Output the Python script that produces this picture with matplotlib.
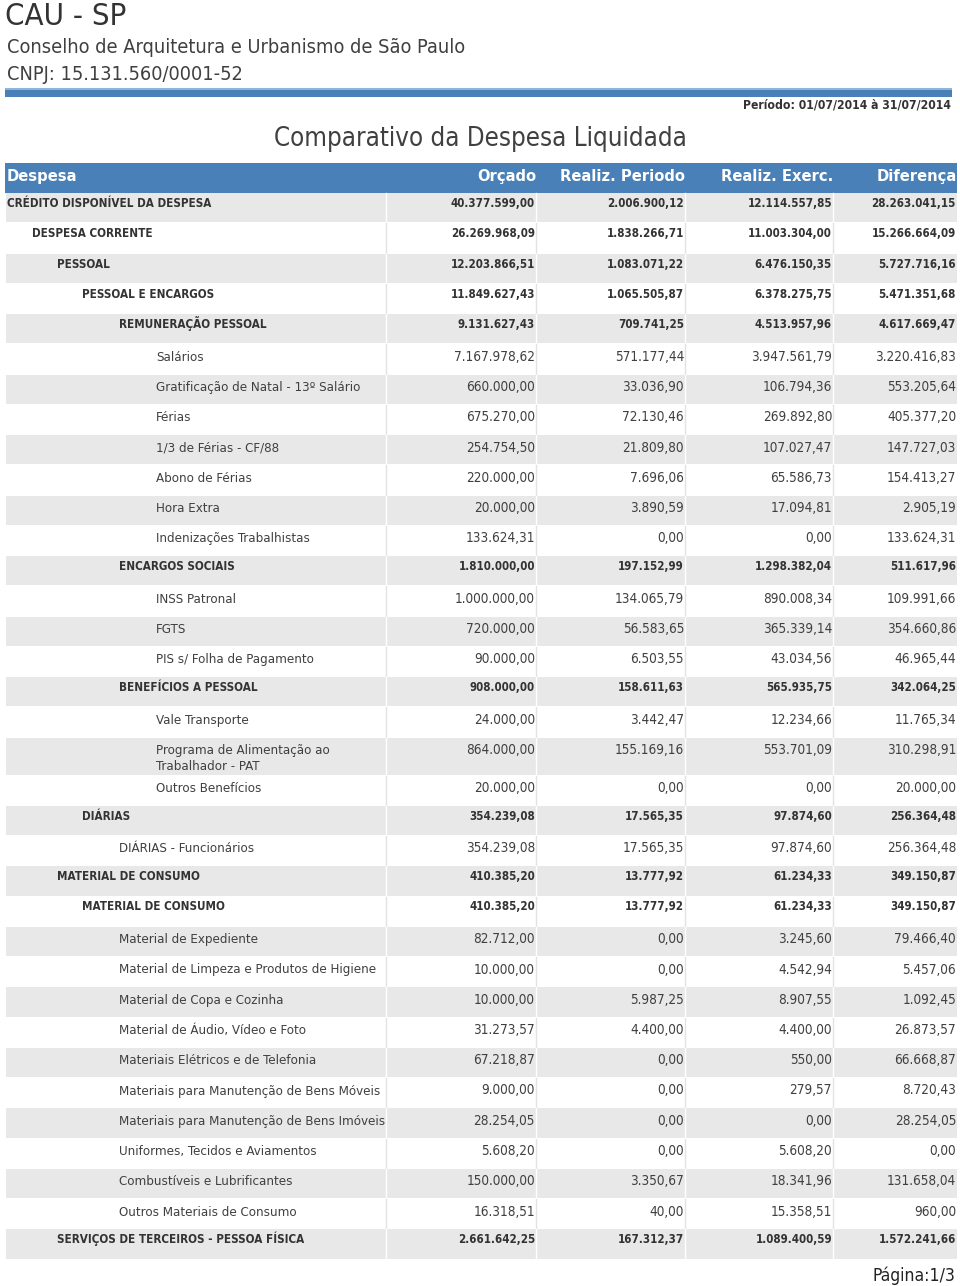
import matplotlib

matplotlib.use("Agg")
import matplotlib.pyplot as plt  # noqa: E402
from matplotlib import font_manager  # noqa: E402
from matplotlib.font_manager import FontProperties  # noqa: E402
from matplotlib.patches import Rectangle  # noqa: E402
from matplotlib.textpath import TextPath  # noqa: E402

# ---- data -------------------------------------------------------------
columns = ["Orçado", "Realiz. Periodo", "Realiz. Exerc.", "Diferença"]

labels = [
    "CRÉDITO DISPONÍVEL DA DESPESA",
    "DESPESA CORRENTE",
    "PESSOAL",
    "PESSOAL E ENCARGOS",
    "REMUNERAÇÃO PESSOAL",
    "Salários",
    "Gratificação de Natal - 13º Salário",
    "Férias",
    "1/3 de Férias - CF/88",
    "Abono de Férias",
    "Hora Extra",
    "Indenizações Trabalhistas",
    "ENCARGOS SOCIAIS",
    "INSS Patronal",
    "FGTS",
    "PIS s/ Folha de Pagamento",
    "BENEFÍCIOS A PESSOAL",
    "Vale Transporte",
    "Programa de Alimentação ao\nTrabalhador - PAT",
    "Outros Benefícios",
    "DIÁRIAS",
    "DIÁRIAS - Funcionários",
    "MATERIAL DE CONSUMO",
    "MATERIAL DE CONSUMO",
    "Material de Expediente",
    "Material de Limpeza e Produtos de Higiene",
    "Material de Copa e Cozinha",
    "Material de Áudio, Vídeo e Foto",
    "Materiais Elétricos e de Telefonia",
    "Materiais para Manutenção de Bens Móveis",
    "Materiais para Manutenção de Bens Imóveis",
    "Uniformes, Tecidos e Aviamentos",
    "Combustíveis e Lubrificantes",
    "Outros Materiais de Consumo",
    "SERVIÇOS DE TERCEIROS - PESSOA FÍSICA",
]

# hierarchy level of each row and whether it is a summary (bold) row
levels = [0, 1, 2, 3, 4, 5, 5, 5, 5, 5, 5, 5, 4, 5, 5, 5, 4, 5, 5, 5,
          3, 4, 2, 3, 4, 4, 4, 4, 4, 4, 4, 4, 4, 4, 2]
summary = [1, 1, 1, 1, 1, 0, 0, 0, 0, 0, 0, 0, 1, 0, 0, 0, 1, 0, 0, 0,
           1, 0, 1, 1, 0, 0, 0, 0, 0, 0, 0, 0, 0, 0, 1]

orcado = [40377599.00, 26269968.09, 12203866.51, 11849627.43, 9131627.43,
          7167978.62, 660000.00, 675270.00, 254754.50, 220000.00, 20000.00,
          133624.31, 1810000.00, 1000000.00, 720000.00, 90000.00, 908000.00,
          24000.00, 864000.00, 20000.00, 354239.08, 354239.08, 410385.20,
          410385.20, 82712.00, 10000.00, 10000.00, 31273.57, 67218.87,
          9000.00, 28254.05, 5608.20, 150000.00, 16318.51, 2661642.25]
realiz_periodo = [2006900.12, 1838266.71, 1083071.22, 1065505.87, 709741.25,
                  571177.44, 33036.90, 72130.46, 21809.80, 7696.06, 3890.59,
                  0.00, 197152.99, 134065.79, 56583.65, 6503.55, 158611.63,
                  3442.47, 155169.16, 0.00, 17565.35, 17565.35, 13777.92,
                  13777.92, 0.00, 0.00, 5987.25, 4400.00, 0.00, 0.00, 0.00,
                  0.00, 3350.67, 40.00, 167312.37]
realiz_exerc = [12114557.85, 11003304.00, 6476150.35, 6378275.75, 4513957.96,
                3947561.79, 106794.36, 269892.80, 107027.47, 65586.73,
                17094.81, 0.00, 1298382.04, 890008.34, 365339.14, 43034.56,
                565935.75, 12234.66, 553701.09, 0.00, 97874.60, 97874.60,
                61234.33, 61234.33, 3245.60, 4542.94, 8907.55, 4400.00,
                550.00, 279.57, 0.00, 5608.20, 18341.96, 15358.51, 1089400.59]
diferenca = [28263041.15, 15266664.09, 5727716.16, 5471351.68, 4617669.47,
             3220416.83, 553205.64, 405377.20, 147727.03, 154413.27, 2905.19,
             133624.31, 511617.96, 109991.66, 354660.86, 46965.44, 342064.25,
             11765.34, 310298.91, 20000.00, 256364.48, 256364.48, 349150.87,
             349150.87, 79466.40, 5457.06, 1092.45, 26873.57, 66668.87,
             8720.43, 28254.05, 0.00, 131658.04, 960.00, 1572241.66]

# ---- layout / style -------------------------------------------------------
W, H, DPI = 960, 1286, 100
BLUE = "#4a80b8"
GREY = "#e8e8e8"
TEXT = "#333333"
BODY = "#404040"
INDENT = {0: 7, 1: 32, 2: 57, 3: 82, 4: 119, 5: 156}
COL_RIGHT = [535, 684, 832, 956]
SEPS = [386, 536, 685, 833]
TABLE_X0, TABLE_X1 = 6, 957
ROW_H = 30.25
EXTRA_LINE = 7.75
TOP = 193

available = {f.name for f in font_manager.fontManager.ttflist}
if "DejaVu Sans Condensed" in available:
    FAMILY, STRETCH = "DejaVu Sans Condensed", "normal"
else:
    FAMILY, STRETCH = "DejaVu Sans", "condensed"


def fit_size(sample, width_px, weight="normal"):
    prop = FontProperties(family=FAMILY, weight=weight, stretch=STRETCH)
    ext = TextPath((0, 0), sample, size=10, prop=prop).get_extents()
    return 10 * width_px / (ext.width * DPI / 72)


def fmt(v):
    return f"{v:,.2f}".replace(",", "X").replace(".", ",").replace("X", ".")


fs_body = fit_size("Gratificação de Natal - 13º Salário", 202)
fs_bold = fit_size("CRÉDITO DISPONÍVEL DA DESPESA", 204, "bold")
fs_num = fit_size("7.167.978,62", 79)
fs_num_bold = fit_size("40.377.599,00", 83, "bold")
fs_head = fit_size("Realiz. Periodo", 123, "bold")
fs_title = fit_size("Comparativo da Despesa Liquidada", 410)
fs_cau = fit_size("CAU - SP", 119)
fs_org = fit_size("Conselho de Arquitetura e Urbanismo de São Paulo", 455)
fs_period = fit_size("Período: 01/07/2014 à 31/07/2014", 206, "bold")
fs_page = fit_size("Página:1/3", 80)

fig = plt.figure(figsize=(W / DPI, H / DPI), dpi=DPI)
ax = fig.add_axes([0, 0, 1, 1])
ax.set_xlim(0, W)
ax.set_ylim(H, 0)
ax.axis("off")


def txt(x, y, s, size, weight="normal", color=TEXT, ha="left"):
    ax.text(x, y, s, fontsize=size, fontweight=weight, color=color, ha=ha,
            va="baseline", family=FAMILY, fontstretch=STRETCH)


# page heading
txt(5, 25, "CAU - SP", fs_cau)
txt(7, 53, "Conselho de Arquitetura e Urbanismo de São Paulo", fs_org, color=BODY)
txt(7, 80, "CNPJ: 15.131.560/0001-52", fs_org, color=BODY)
ax.add_patch(Rectangle((5, 88), 947, 9, color=BLUE, lw=0))
ax.add_patch(Rectangle((5, 88), 947, 1.5, color="#8fb5dc", lw=0))
txt(951, 108, "Período: 01/07/2014 à 31/07/2014", fs_period, "bold", ha="right")
txt(274, 146, "Comparativo da Despesa Liquidada", fs_title, color=BODY)

# table header
ax.add_patch(Rectangle((5, 163), 952, 30, color=BLUE, lw=0))
txt(7, 181, "Despesa", fs_head, "bold", color="white")
for c, right in zip(columns, COL_RIGHT):
    txt(right + 1, 181, c, fs_head, "bold", color="white", ha="right")

# table body
top = TOP
for i, label in enumerate(labels):
    lines = label.split("\n")
    h = ROW_H + EXTRA_LINE * (len(lines) - 1)
    grey = i % 2 == 0
    if grey:
        ax.add_patch(Rectangle((TABLE_X0, top), TABLE_X1 - TABLE_X0, h - 1,
                               color=GREY, lw=0))
    sep_color = "white" if grey else "#e2e2e2"
    for sx in SEPS:
        ax.plot([sx, sx], [top, top + h - 1], color=sep_color, lw=1)

    if summary[i]:
        base = top + 14
        txt(INDENT[levels[i]], base, label, fs_bold, "bold")
        size, weight, color = fs_num_bold, "bold", TEXT
    else:
        base = top + 16.5
        for k, line in enumerate(lines):
            txt(INDENT[levels[i]], base + 16 * k, line, fs_body, color=BODY)
        size, weight, color = fs_num, "normal", BODY

    values = [orcado[i], realiz_periodo[i], realiz_exerc[i], diferenca[i]]
    for v, right in zip(values, COL_RIGHT):
        txt(right, base, fmt(v), size, weight, color=color, ha="right")
    top += h

txt(955, 1281, "Página:1/3", fs_page, color="#222222", ha="right")

fig.savefig("out.png", dpi=DPI, facecolor="white")
